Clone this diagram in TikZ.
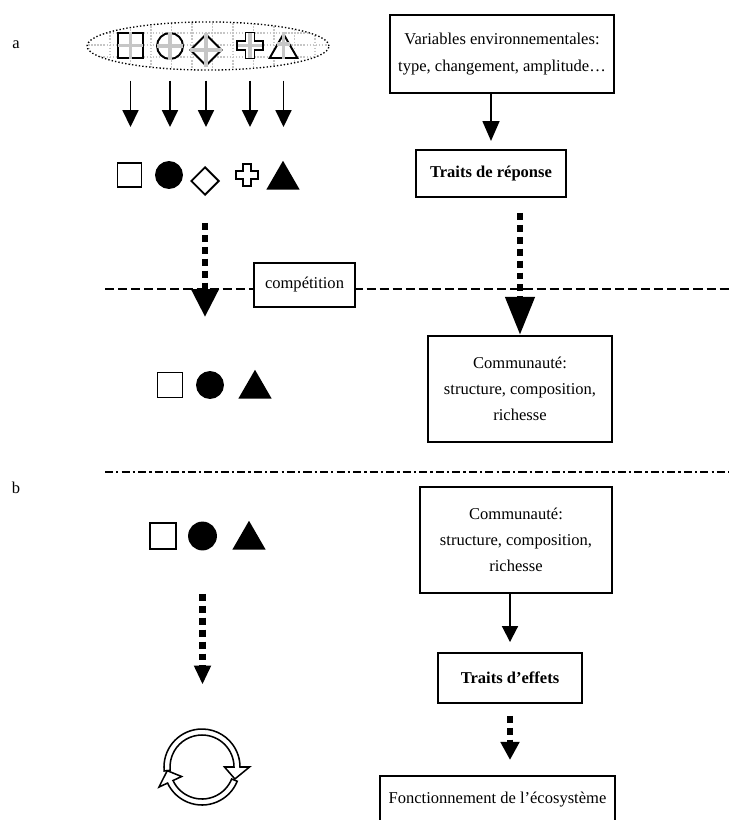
\documentclass[tikz,border=0pt]{standalone}
\usepackage{fontspec}
\setmainfont{Liberation Serif}
\usetikzlibrary{calc}
\usetikzlibrary{shapes.geometric}
\usetikzlibrary{arrows.meta}

% outline of a plus sign: #1 half size, #2 half arm
\newcommand\contourplus[2]{(-#2,-#1) -- (#2,-#1) -- (#2,-#2) -- (#1,-#2) -- (#1,#2) -- (#2,#2) -- (#2,#1) -- (-#2,#1) -- (-#2,#2) -- (-#1,#2) -- (-#1,-#2) -- (-#2,-#2) -- cycle}

\begin{document}
\begin{tikzpicture}[
     x=0.52pt, y=-0.52pt,
     txt/.style={font={\fontsize{8.6}{13.6}\selectfont}},
     boite/.style={draw, line width=1pt, fill=white, align=center, inner sep=0pt, txt},
     forme/.style={draw, line width=1pt, inner sep=0pt},
     croix/.style={draw=gray!45, line width=2pt, shorten <=0.5pt, shorten >=0.5pt},
     grille/.style={gray!45, line width=0.8pt, dash pattern=on 0.8pt off 0.8pt},
     petite/.style={line width=0.9pt, -{Triangle[length=8.8pt,width=8.3pt]}},
     fleche/.style 2 args={line width=1pt, -{Triangle[length=#1,width=#2]}},
     pointille/.style 2 args={line width=3.6pt, dash pattern=on 3.6pt off 2.6pt, -{Triangle[length=#1,width=#2]}},
     tirets/.style={line width=0.7pt, dash pattern=on 4.7pt off 2.1pt},
     tiretpoint/.style={line width=0.7pt, dash pattern=on 4.2pt off 1.6pt on 1.2pt off 1.6pt},
     anneau/.style={draw, line width=0.8pt, fill=white}
   ]
   \useasboundingbox (0,0) rectangle (729,820);
   \node[txt] (la) at (16,45) {a};
   \node[txt] (lb) at (16,488) {b};
   % Pool of species.
   \begin{scope}
     \clip (208,46) ellipse [x radius=121, y radius=24];
     \foreach \x in {89.5,110,...,330} \draw[grille] (\x,20) -- (\x,72);
     \foreach \y in {33,45,57} \draw[grille] (85,\y) -- (332,\y);
   \end{scope}
   \node[ellipse, draw, line width=0.7pt, dash pattern=on 0.7pt off 1.1pt,
     minimum width=125.8pt, minimum height=25pt, inner sep=0pt] (ens) at (208,46) {};
   \node[forme, fill=white, minimum size=13pt] (h1) at (130.5,45.5) {};
   \node[forme, circle, fill=white, minimum size=13.5pt] (h2) at (170,46) {};
   \node[forme, diamond, fill=white, minimum size=16.6pt] (h3) at (206,50) {};
   \node[inner sep=0pt, minimum size=13.5pt] (h4) at (250,45.5) {};
   \draw[forme, fill=white, shift={(h4.center)}] \contourplus{13}{4.5};
   \node[forme, regular polygon, regular polygon sides=3, fill=white, minimum size=16.6pt] (h5) at (283.5,50) {};
   \foreach \i in {1,...,4}
     \draw[croix] (h\i.north) -- (h\i.south) (h\i.west) -- (h\i.east);
   \draw[croix] (h5.corner 1) -- (h5.corner 1 |- h5.corner 2)
     ($(h5.corner 1)!0.45!(h5.corner 2)$) -- ($(h5.corner 1)!0.45!(h5.corner 3)$);
   \draw[forme, shift={(h4.center)}] \contourplus{13}{4.5};
   % Filtered by the environment.
   \node[forme, minimum size=12.5pt] (b1) at (129.5,175) {};
   \node[forme, circle, fill, minimum size=13.5pt] (b2) at (169,175) {};
   \node[forme, diamond, minimum size=14.6pt] (b3) at (205,181) {};
   \node[inner sep=0pt, minimum size=11.4pt] (b4) at (247,175) {};
   \draw[forme, shift={(b4.center)}] \contourplus{11}{4};
   \node[forme, regular polygon, regular polygon sides=3, fill, minimum size=18pt] (b5) at (283,180) {};
   \foreach \i in {1,...,5}
     \draw[petite, shorten <=5.2pt, shorten >=18.2pt] (h\i |- ens.south) -- (h\i |- b1.north);
   % Competition.
   \coordinate (t1) at (105,289);
   \coordinate (t2) at (729,289);
   \draw[tirets] (t1) -- (t2);
   \node[boite, minimum width=52.5pt, minimum height=22.9pt] (comp) at (304.5,285) {compétition};
   \node[forme, minimum size=13pt] (c1) at (170,385) {};
   \node[forme, circle, fill, minimum size=13.5pt] (c2) at (210,385) {};
   \node[forme, regular polygon, regular polygon sides=3, fill, minimum size=18pt] (c3) at (255,389) {};
   \draw[pointille={14.6pt}{13.5pt}, shorten <=14pt, shorten >=28pt] (b3.south) -- (b3.south |- c2.north);
   % Response side.
   \node[boite, minimum width=116.5pt, minimum height=40.6pt] (var) at (502,54)
     {Variables environnementales:\\type, changement, amplitude…};
   \node[boite, minimum width=78pt, minimum height=24.4pt] (rep) at (491,173.5) {\bfseries Traits de réponse};
   \node[boite, minimum width=95.7pt, minimum height=55.1pt] (comA) at (520,389)
     {Communauté:\\structure, composition,\\richesse};
   \draw[fleche={10.4pt}{8.8pt}, shorten >=4.2pt] (rep.north |- var.south) -- (rep.north);
   \draw[pointille={19.8pt}{14.6pt}, shorten <=7.8pt] (comA.north |- rep.south) -- (comA.north);
   % Separation a / b.
   \coordinate (s1) at (105,472);
   \coordinate (s2) at (729,472);
   \draw[tiretpoint] (s1) -- (s2);
   % Effect side.
   \node[forme, minimum size=13.5pt] (d1) at (163,536) {};
   \node[forme, circle, fill, minimum size=14pt] (d2) at (202.5,536) {};
   \node[forme, regular polygon, regular polygon sides=3, fill, minimum size=18pt] (d3) at (249,540) {};
   \node[inner sep=0pt, circle, minimum size=39.5pt] (boucle) at (202,767) {};
   \draw[pointille={9.9pt}{8.3pt}, shorten <=22.6pt, shorten >=22.9pt] (d2.south) -- (d2.south |- boucle.north);
   \begin{scope}[shift={(boucle.center)}]
     \draw[anneau] (174:38) arc[start angle=174, end angle=360, radius=38] -- (360:47.5)
       -- (380:35) -- (360:22.5) -- (360:32) arc[start angle=360, end angle=174, radius=32] -- cycle;
     \draw[anneau] (22:38) arc[start angle=22, end angle=155, radius=38] -- (155:47.5)
       -- (174:35) -- (155:22.5) -- (155:32) arc[start angle=155, end angle=22, radius=32] -- cycle;
   \end{scope}
   \node[boite, minimum width=99.8pt, minimum height=55.1pt] (comB) at (516,540)
     {Communauté:\\structure, composition,\\richesse};
   \node[boite, minimum width=74.9pt, minimum height=26pt] (eff) at (510,678) {\bfseries Traits d’effets};
   \node[boite, anchor=north, minimum width=122.2pt, minimum height=24pt] (fonc) at (497.5,775)
     {Fonctionnement de l’écosystème};
   \draw[fleche={8.3pt}{8.3pt}, shorten >=5.2pt] (eff.north |- comB.south) -- (eff.north);
   \draw[pointille={9.4pt}{9.4pt}, shorten <=6.2pt, shorten >=7.8pt] (eff.south) -- (eff.south |- fonc.north);
 \end{tikzpicture}
\end{document}
